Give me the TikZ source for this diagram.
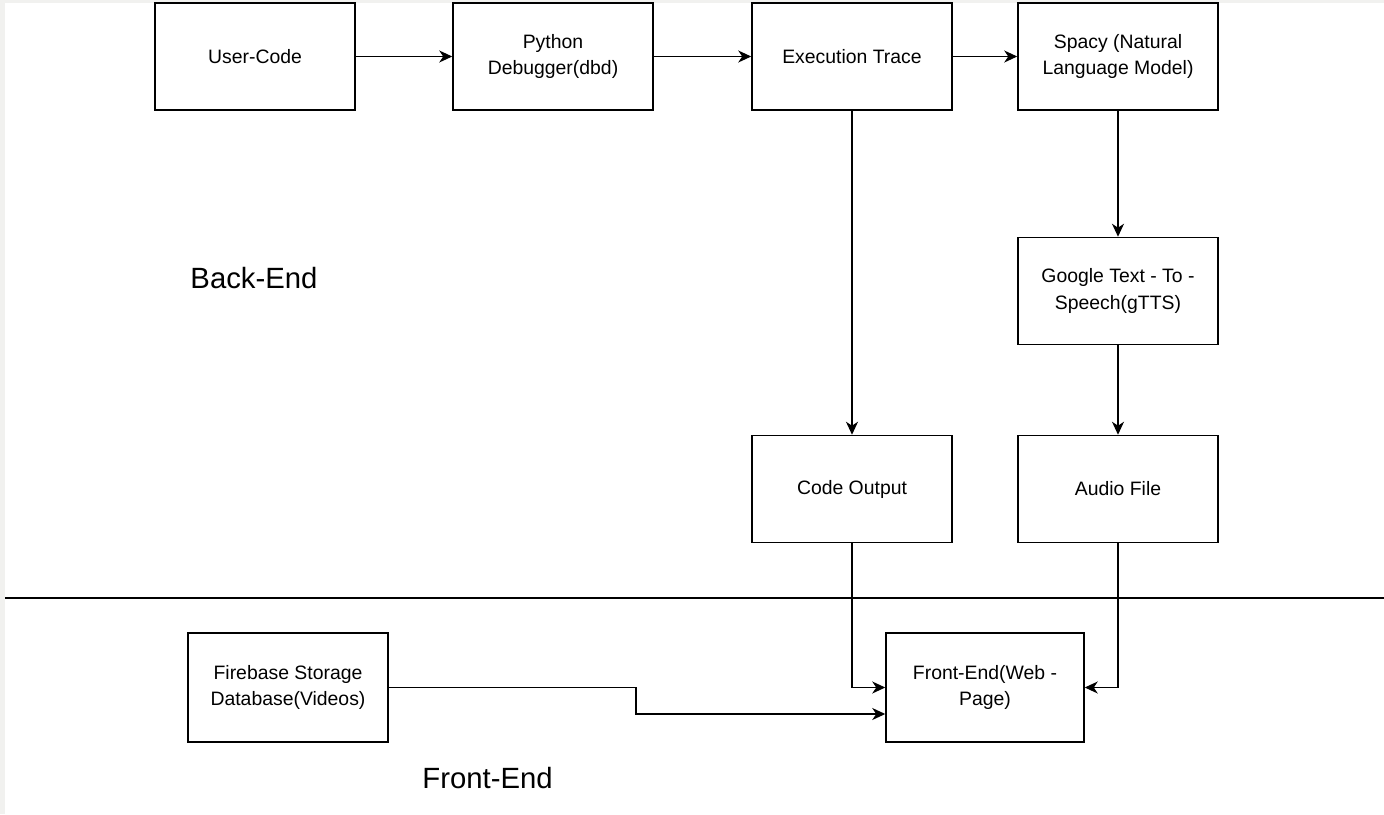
\documentclass[tikz,border=0pt]{standalone}
\usepackage{fontspec}
\setmainfont{Liberation Sans}
\usetikzlibrary{arrows.meta}
\definecolor{edgegray}{HTML}{F1F1EF}
\begin{document}
\begin{tikzpicture}[x=1pt,y=-1pt,
  box/.style={draw=black, line width=1.5pt, fill=white, minimum width=200pt, minimum height=107pt,
    align=center, inner sep=0pt, font=\fontsize{19.4}{26.5}\selectfont},
  conn/.style={draw=black, line width=1.5pt, -{Stealth[length=13pt,width=12pt,inset=4pt]}},
  lbl/.style={font=\fontsize{29.3}{34}\selectfont, inner sep=0pt}]
\useasboundingbox (0,0) rectangle (1384,814);
\fill[white] (0,0) rectangle (1384,814);
\fill[edgegray] (0,0) rectangle (5,814);
\fill[edgegray] (0,0) rectangle (1384,2.5);

\node[box] (user) at (255,56.5) {User-Code};
\node[box] (pdb) at (553,56.5) {Python\\Debugger(dbd)};
\node[box] (exec) at (852,56.5) {Execution Trace};
\node[box] (spacy) at (1118,56.5) {Spacy (Natural\\Language Model)};
\node[box] (gtts) at (1118,291) {Google Text - To -\\Speech(gTTS)};
\node[box] (code) at (852,489) {Code Output};
\node[box] (audio) at (1118,489) {Audio File};
\node[box, minimum width=198pt, minimum height=109pt] (front) at (985,687.5) {Front-End(Web -\\Page)};
\node[box, minimum height=109pt] (fire) at (288,687.5) {Firebase Storage\\Database(Videos)};

\node[lbl] (backlbl) at (254,278) {Back-End};
\node[lbl] (frontlbl) at (487.5,778) {Front-End};

\coordinate (sepL) at (5,598);
\coordinate (sepR) at (1384,598);
\draw[line width=1.5pt] (sepL) -- (sepR);

\draw[conn] (user) -- (pdb);
\draw[conn] (pdb) -- (exec);
\draw[conn] (exec) -- (spacy);
\draw[conn] (spacy) -- (gtts);
\draw[conn] (gtts) -- (audio);
\draw[conn] (exec) -- (code);
\draw[conn] (code.south) |- (front.west);
\draw[conn] (audio.south) |- (front.east);
\coordinate (bend) at (636,687.5);
\draw[conn] (fire.east) -- (bend) |- ([yshift=-26.5pt]front.west);
\end{tikzpicture}
\end{document}
